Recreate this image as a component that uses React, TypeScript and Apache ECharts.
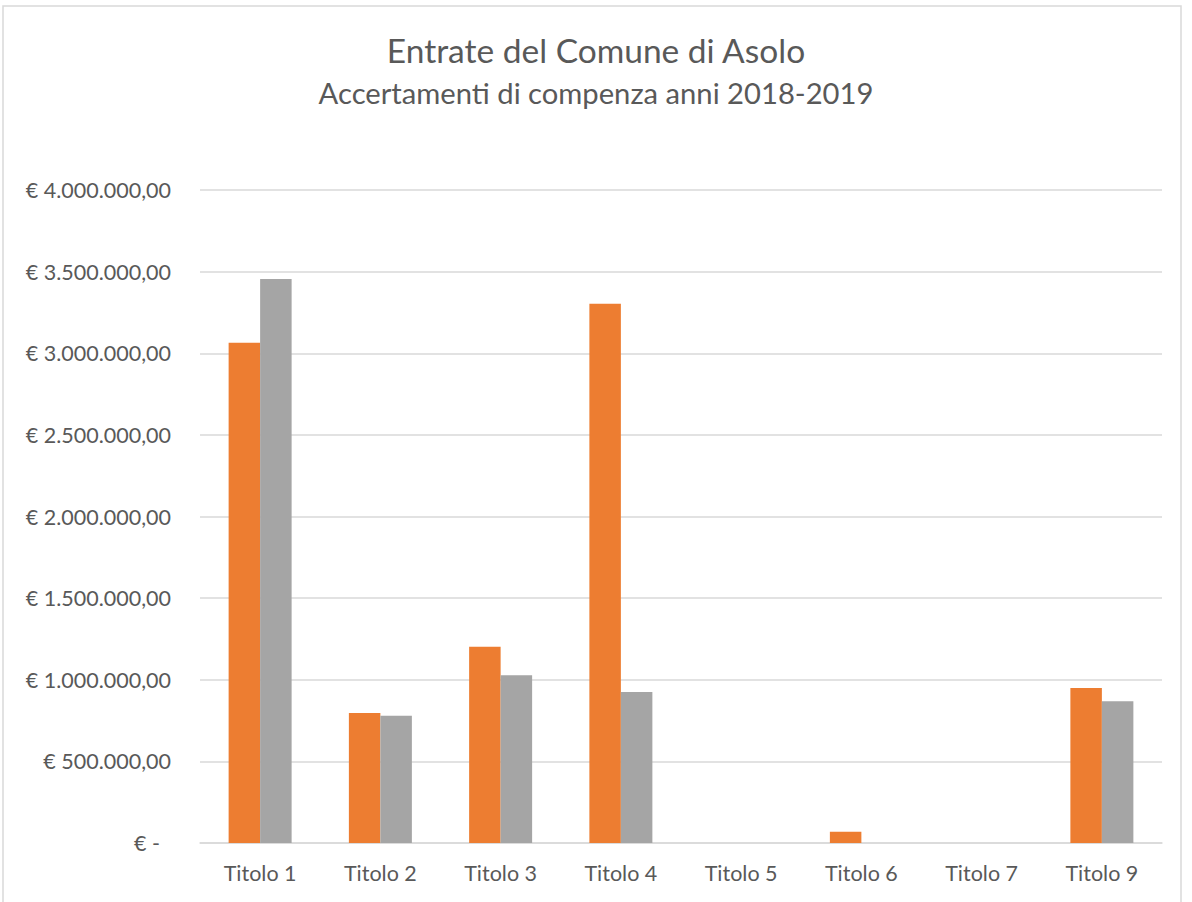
import React, { useEffect, useRef } from "react";
import * as echarts from "echarts";

const categories = ["Titolo 1", "Titolo 2", "Titolo 3", "Titolo 4", "Titolo 5", "Titolo 6", "Titolo 7", "Titolo 9"];
const values2018 = [3065000, 796000, 1202000, 3303000, 0, 69000, 0, 950000];
const values2019 = [3455000, 780000, 1027000, 925000, 0, 0, 0, 868000];
const seriesNames = ["2018", "2019"];
const titleText = "Entrate del Comune di Asolo";
const subtitleText = "Accertamenti di compenza anni 2018-2019";

function formatEuro(v: number): string {
  if (v === 0) return "{z|€ -}";
  const intPart = Math.round(v).toString().replace(/\B(?=(\d{3})+(?!\d))/g, ".");
  return "€ " + intPart + ",00";
}

export default function App() {
  const ref = useRef<HTMLDivElement>(null);
  useEffect(() => {
    document.body.style.margin = "0";
    const chart = echarts.init(ref.current!, undefined, { renderer: "svg" });
    const textColor = "#595959";
    const labelFont = "Lato";
    chart.setOption({
      animation: false,
      backgroundColor: "#ffffff",
      title: [
        {
          text: titleText,
          left: "center",
          top: 28,
          textStyle: { fontFamily: "Lato", fontSize: 33.5, fontWeight: "normal", color: textColor },
        },
        {
          text: subtitleText,
          left: "center",
          top: 73,
          textStyle: { fontFamily: "Lato", fontSize: 29.2, fontWeight: "normal", color: textColor },
        },
      ],
      graphic: [
        {
          type: "rect",
          shape: { x: 3, y: 6, width: 1178, height: 910 },
          style: { fill: "none", stroke: "#d9d9d9", lineWidth: 1.5 },
          silent: true,
          z: -1,
        },
      ],
      grid: { left: 200, right: 30, top: 190, bottom: 59, containLabel: false },
      xAxis: {
        type: "category",
        data: categories,
        axisLine: { show: true, lineStyle: { color: "#d9d9d9", width: 1.5 } },
        axisTick: { show: false },
        axisLabel: { color: textColor, fontFamily: labelFont, fontSize: 21.5, margin: 19 },
      },
      yAxis: {
        type: "value",
        min: 0,
        max: 4000000,
        interval: 500000,
        axisLine: { show: false },
        axisTick: { show: false },
        splitLine: { lineStyle: { color: "#d9d9d9", width: 1.5 } },
        axisLabel: {
          color: textColor,
          fontFamily: labelFont,
          fontSize: 21.5,
          margin: 29,
          formatter: formatEuro,
          rich: { z: { color: textColor, fontFamily: labelFont, fontSize: 21.5, padding: [0, 11, 0, 0] } },
        },
      },
      series: [
        {
          name: seriesNames[0],
          type: "bar",
          data: values2018,
          barWidth: 31.5,
          barGap: "0%",
          itemStyle: { color: "#ED7D31" },
        },
        {
          name: seriesNames[1],
          type: "bar",
          data: values2019,
          barWidth: 31.5,
          barGap: "0%",
          itemStyle: { color: "#A5A5A5" },
        },
      ],
    });
    return () => chart.dispose();
  }, []);
  return <div ref={ref} style={{ width: 1192, height: 902 }} />;
}
